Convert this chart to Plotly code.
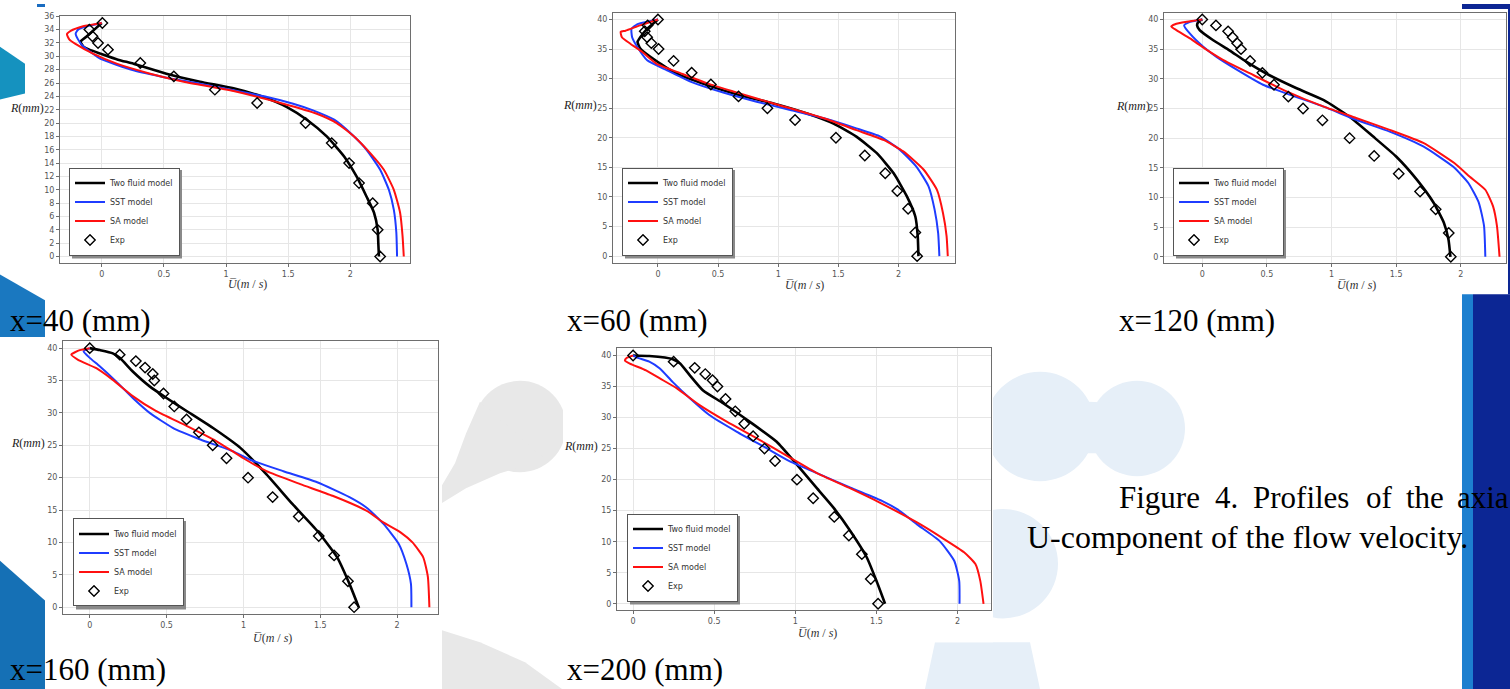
import plotly.graph_objects as go

W, H = 1510, 689

# ---------------- DATA ----------------
panels = ["x=40 (mm)", "x=60 (mm)", "x=120 (mm)", "x=160 (mm)", "x=200 (mm)"]

# x = 40 mm
r_tf_40 = [35, 34, 33, 32.2, 31.5, 31, 30.4, 29.5, 28.9, 27.4, 26.2, 25.2, 23.9, 22.4, 20.5, 18, 15, 12, 9, 6.6, 4, 2, 0]
u_tf_40 = [0.0, -0.06, -0.12, -0.17, -0.15, -0.1, -0.01, 0.13, 0.255, 0.52, 0.79, 1.06, 1.30, 1.49, 1.65, 1.81, 1.95, 2.05, 2.13, 2.19, 2.22, 2.225, 2.23]
r_sst_40 = [35, 34.5, 34, 33.4, 32.5, 31.5, 30.5, 29.6, 27.9, 26.8, 25.9, 24.9, 23.9, 22.9, 21.9, 20.5, 18.5, 16, 13, 10, 7, 3.6, 0]
u_sst_40 = [0.0, -0.12, -0.19, -0.21, -0.19, -0.15, -0.08, -0.01, 0.255, 0.52, 0.79, 1.06, 1.33, 1.54, 1.70, 1.87, 2.0, 2.13, 2.24, 2.31, 2.35, 2.37, 2.376]
r_sa_40 = [35, 34.5, 33.8, 33.3, 32.5, 31.9, 30.4, 28.9, 27.4, 26.2, 24.8, 22.9, 21.4, 20.0, 18.0, 15.5, 13.0, 10.0, 6.6, 3.1, 0]
u_sa_40 = [0.0, -0.15, -0.25, -0.28, -0.26, -0.215, -0.07, 0.12, 0.39, 0.66, 1.06, 1.46, 1.73, 1.89, 2.03, 2.16, 2.27, 2.35, 2.40, 2.42, 2.43]
r_exp_40 = [35, 34, 33, 32, 31, 29, 27, 25, 23, 20, 17, 14, 11, 8, 4, 0]
u_exp_40 = [0.005, -0.1, -0.075, -0.03, 0.05, 0.31, 0.58, 0.91, 1.25, 1.64, 1.85, 1.99, 2.07, 2.18, 2.22, 2.24]

# x = 60 mm
r_tf_60 = [40, 38.4, 37, 36.2, 35.1, 33.7, 31.1, 28.9, 27.2, 25.8, 24.1, 22.4, 20.2, 17.4, 14.0, 10.1, 6.7, 3.4, 0]
u_tf_60 = [0.0, -0.09, -0.147, -0.17, -0.147, -0.064, 0.13, 0.41, 0.68, 0.96, 1.24, 1.46, 1.65, 1.82, 1.96, 2.07, 2.14, 2.16, 2.166]
r_sst_60 = [40, 39.2, 38.4, 37, 35.3, 33.1, 31.4, 29.5, 27.6, 26.1, 24.7, 23.3, 21.6, 20.2, 18.0, 15.1, 11.8, 7.9, 3.9, 0]
u_sst_60 = [0.0, -0.17, -0.22, -0.215, -0.17, -0.09, 0.075, 0.27, 0.55, 0.82, 1.10, 1.38, 1.65, 1.85, 2.01, 2.15, 2.25, 2.30, 2.33, 2.34]
r_sa_60 = [40, 39, 38.1, 37.9, 37, 35.9, 34.5, 32.5, 30.9, 29.2, 27.5, 25.8, 23.3, 21.3, 19.6, 17.7, 14.6, 11.2, 7.3, 3.4, 0]
u_sa_60 = [0.0, -0.15, -0.27, -0.31, -0.30, -0.23, -0.13, -0.01, 0.19, 0.41, 0.68, 0.96, 1.38, 1.65, 1.88, 2.04, 2.21, 2.32, 2.37, 2.40, 2.41]
r_exp_60 = [40, 39, 38, 37, 36, 35, 33, 31, 29, 27, 25, 23, 20, 17, 14, 11, 8, 4, 0]
u_exp_60 = [0.0, -0.086, -0.11, -0.09, -0.055, 0.005, 0.13, 0.28, 0.44, 0.67, 0.91, 1.14, 1.48, 1.72, 1.89, 1.99, 2.08, 2.14, 2.155]

# x = 120 mm
r_tf_120 = [40, 39.6, 39, 38.2, 36.5, 34.8, 32.9, 30.6, 28.4, 26.4, 23.6, 20.3, 16.9, 13, 9.1, 5.7, 2.9, 0]
u_tf_120 = [0.0, -0.03, -0.04, -0.02, 0.085, 0.21, 0.34, 0.52, 0.73, 0.94, 1.14, 1.32, 1.50, 1.66, 1.79, 1.87, 1.905, 1.92]
r_sst_120 = [40, 39.6, 39, 37.6, 35.4, 33.7, 31.5, 29, 27.3, 25.3, 23.1, 21.1, 18.6, 15.2, 12.4, 9.1, 5.2, 0]
u_sst_120 = [0.0, -0.095, -0.14, -0.095, 0.008, 0.11, 0.27, 0.47, 0.68, 0.94, 1.19, 1.45, 1.71, 1.94, 2.06, 2.14, 2.18, 2.19]
r_sa_120 = [40, 39.6, 39.2, 38.8, 38.2, 36.8, 35.1, 33.2, 30.9, 28.1, 25.3, 23.4, 21.4, 19.2, 15.8, 13.5, 11.3, 8.5, 5.2, 0]
u_sa_120 = [0.0, -0.12, -0.21, -0.24, -0.20, -0.095, 0.02, 0.16, 0.37, 0.63, 0.94, 1.19, 1.45, 1.71, 1.95, 2.07, 2.19, 2.25, 2.28, 2.30]
r_exp_120 = [40, 39, 38, 37, 36, 35, 33, 31, 29, 27, 25, 23, 20, 17, 14, 11, 8, 4, 0]
u_exp_120 = [0.0, 0.106, 0.2, 0.235, 0.27, 0.30, 0.37, 0.465, 0.555, 0.666, 0.78, 0.93, 1.14, 1.33, 1.52, 1.685, 1.806, 1.907, 1.923]

# x = 160 mm
r_tf_160 = [40, 39.7, 39.2, 38.5, 36.4, 34.1, 32.3, 30.3, 27.7, 24.6, 20.5, 15.9, 11.8, 7.7, 3.6, 0]
u_tf_160 = [0.0, 0.065, 0.15, 0.195, 0.28, 0.39, 0.50, 0.63, 0.80, 0.98, 1.15, 1.32, 1.48, 1.61, 1.69, 1.75]
r_sst_160 = [40, 39.5, 38.5, 37.2, 34.9, 32.3, 30, 27.7, 25.9, 24.1, 22.8, 21, 19.3, 17, 15.4, 12.9, 9.8, 6.7, 3.6, 0]
u_sst_160 = [0.0, -0.04, 0.0, 0.065, 0.17, 0.28, 0.39, 0.54, 0.72, 0.93, 1.04, 1.26, 1.48, 1.69, 1.80, 1.91, 2.01, 2.06, 2.09, 2.093]
r_sa_160 = [40, 39.7, 39, 38.2, 36.9, 35.1, 32.6, 30.3, 28, 25.7, 23, 21, 19, 17.2, 14.9, 13.1, 11.6, 10, 7.7, 4.7, 0]
u_sa_160 = [0.0, -0.065, -0.12, -0.076, 0.043, 0.15, 0.28, 0.43, 0.63, 0.82, 1.0, 1.15, 1.37, 1.58, 1.80, 1.91, 2.02, 2.10, 2.17, 2.20, 2.21]
r_exp_160 = [40, 39, 38, 37, 36, 35, 33, 31, 29, 27, 25, 23, 20, 17, 14, 11, 8, 4, 0]
u_exp_160 = [0.0, 0.195, 0.30, 0.36, 0.41, 0.42, 0.48, 0.55, 0.63, 0.71, 0.80, 0.89, 1.03, 1.19, 1.36, 1.49, 1.59, 1.68, 1.72]

# x = 200 mm
r_tf_200 = [40, 39.9, 39.4, 38.7, 36.8, 34.4, 32.3, 29.3, 26.1, 22.4, 18.7, 15.5, 11.7, 7.5, 3.7, 0]
u_tf_200 = [0.0, 0.10, 0.245, 0.29, 0.35, 0.43, 0.555, 0.72, 0.885, 1.01, 1.13, 1.235, 1.34, 1.44, 1.50, 1.553]
r_sst_200 = [40, 39.7, 39, 37.9, 35.7, 33.1, 30.4, 27.7, 25.1, 22.9, 21.1, 18.7, 16.5, 15.2, 12.8, 10.1, 6.9, 3.7, 0]
u_sst_200 = [0.0, 0.02, 0.10, 0.165, 0.245, 0.35, 0.47, 0.64, 0.82, 0.97, 1.13, 1.34, 1.54, 1.63, 1.75, 1.89, 1.98, 2.01, 2.012]
r_sa_200 = [40, 39.6, 39.2, 38.7, 37.6, 36.3, 34.7, 32, 29.3, 26.7, 23.5, 21.1, 18.7, 16.3, 13.1, 10.7, 8.3, 6.4, 3.7, 0]
u_sa_200 = [0.0, -0.04, -0.05, -0.02, 0.08, 0.165, 0.27, 0.41, 0.58, 0.76, 0.97, 1.13, 1.33, 1.52, 1.75, 1.90, 2.04, 2.11, 2.14, 2.16]
r_exp_200 = [40, 39, 38, 37, 36, 35, 33, 31, 29, 27, 25, 23, 20, 17, 14, 11, 8, 4, 0]
u_exp_200 = [0.0, 0.25, 0.38, 0.445, 0.49, 0.52, 0.57, 0.63, 0.685, 0.74, 0.81, 0.875, 1.01, 1.11, 1.24, 1.33, 1.41, 1.465, 1.51]

series = [
    (r_tf_40, u_tf_40, r_sst_40, u_sst_40, r_sa_40, u_sa_40, r_exp_40, u_exp_40),
    (r_tf_60, u_tf_60, r_sst_60, u_sst_60, r_sa_60, u_sa_60, r_exp_60, u_exp_60),
    (r_tf_120, u_tf_120, r_sst_120, u_sst_120, r_sa_120, u_sa_120, r_exp_120, u_exp_120),
    (r_tf_160, u_tf_160, r_sst_160, u_sst_160, r_sa_160, u_sa_160, r_exp_160, u_exp_160),
    (r_tf_200, u_tf_200, r_sst_200, u_sst_200, r_sa_200, u_sa_200, r_exp_200, u_exp_200),
]
names = ["Two fluid model", "SST model", "SA model", "Exp"]
y_dticks = [2, 5, 5, 5, 5]

# ---------------- LAYOUT GEOMETRY (pixels) ----------------
def px(x):
    return x / W

def py(y):
    return 1 - y / H

# plot frame pixel boxes: left, right, top, bottom
frames = [(60, 410, 12, 261), (613, 955, 9, 261), (1164, 1506, 9, 261),
          (63, 438, 339, 614), (617, 991, 346, 610)]
xranges = [[-0.336, 2.48], [-0.374, 2.47], [-0.296, 2.35], [-0.174, 2.266], [-0.099, 2.206]]
yranges = [[-1.04, 36.05], [-1.24, 41.1], [-1.13, 41.1], [-1.12, 41.1], [-1.07, 41.2]]
# legend: left x, bottom y
legend_pos = [(69, 253), (622, 253), (1173, 253), (73, 606), (627, 601)]
LEG_W, LEG_H = 110, 89
rlabel_pos = [(27, 105), (580, 102), (1133, 103), (28, 442), (581, 445)]
ulabel_pos = [(247, 282), (804, 283), (1356, 283), (272, 638), (817, 633)]
caption_pos = [(8, 318), (565, 318), (1117, 318), (8, 669), (565, 669)]

colors = ["#000000", "#1f3cff", "#ff1010"]
widths = [2.6, 2.0, 2.0]

fig = go.Figure()
layout = dict(width=W, height=H, margin=dict(l=0, r=0, t=0, b=0),
              paper_bgcolor="white", plot_bgcolor="white", showlegend=True)

tickfont = dict(family="DejaVu Sans", size=8, color="#555555")

for i, s in enumerate(series):
    k = "" if i == 0 else str(i + 1)
    xa, ya = "x" + k, "y" + k
    lg = "legend" + k
    curves = [(s[0], s[1]), (s[2], s[3]), (s[4], s[5])]
    for j, (r, u) in enumerate(curves):
        fig.add_trace(go.Scatter(x=u, y=r, mode="lines", name=names[j],
                                 line=dict(color=colors[j], width=widths[j], shape="spline", smoothing=0.5),
                                 xaxis=xa, yaxis=ya, legend=lg))
    fig.add_trace(go.Scatter(x=s[7], y=s[6], mode="markers", name=names[3],
                             marker=dict(symbol="diamond-open", size=8, color="black",
                                         line=dict(width=1.4, color="black")),
                             xaxis=xa, yaxis=ya, legend=lg))
    l, rr, t, b = frames[i]
    axcommon = dict(showgrid=True, gridcolor="#e6e6e6", gridwidth=1, zeroline=False,
                    showline=True, linecolor="#6e6e6e", linewidth=1, mirror=True,
                    ticks="outside", ticklen=3, tickcolor="#6e6e6e", tickfont=tickfont)
    layout["xaxis" + k] = dict(domain=[px(l), px(rr)], range=xranges[i], dtick=0.5,
                               anchor=ya, **axcommon)
    layout["yaxis" + k] = dict(domain=[py(b), py(t)], range=yranges[i], dtick=y_dticks[i],
                               anchor=xa, **axcommon)
    lx, lb = legend_pos[i]
    layout[lg] = dict(x=px(lx), y=py(lb), xanchor="left", yanchor="bottom",
                      bgcolor="white", bordercolor="#555555", borderwidth=1,
                      font=dict(family="DejaVu Sans", size=8, color="#333333"),
                      itemwidth=30, tracegroupgap=0)

annotations = []
for i in range(5):
    x0, y0 = rlabel_pos[i]
    annotations.append(dict(x=px(x0), y=py(y0), xref="paper", yref="paper", showarrow=False,
                            text="<i>R</i>(<i>mm</i>)", xanchor="center", yanchor="middle",
                            font=dict(family="Liberation Serif", size=12, color="#222")))
    x0, y0 = ulabel_pos[i]
    annotations.append(dict(x=px(x0), y=py(y0), xref="paper", yref="paper", showarrow=False,
                            text="<i>U\u0305</i>(<i>m</i> / <i>s</i>)", xanchor="center", yanchor="middle",
                            font=dict(family="Liberation Serif", size=12, color="#333")))
    x0, y0 = caption_pos[i]
    annotations.append(dict(x=px(x0), y=py(y0), xref="paper", yref="paper", showarrow=False,
                            text=panels[i], xanchor="left", yanchor="middle",
                            font=dict(family="Liberation Serif", size=31, color="black")))

# figure caption (justified first line, last word cut by the page edge)
cap_words = [("Figure", 1117), ("4.", 1213), ("Profiles", 1251), ("of", 1364), ("the", 1404), ("axia", 1455)]
for wtxt, wx in cap_words:
    annotations.append(dict(x=px(wx), y=py(496), xref="paper", yref="paper", showarrow=False,
                            text=wtxt, xanchor="left", yanchor="middle",
                            font=dict(family="Liberation Serif", size=31, color="black")))
annotations.append(dict(x=px(1025), y=py(536), xref="paper", yref="paper", showarrow=False,
                        text="U-component of the flow velocity.", xanchor="left", yanchor="middle",
                        font=dict(family="Liberation Serif", size=32, color="black")))
layout["annotations"] = annotations

# ---------------- background decoration shapes ----------------
def poly(points, color, layer="below"):
    d = "M " + " L ".join(f"{px(x):.5f},{py(y):.5f}" for x, y in points) + " Z"
    return dict(type="path", path=d, xref="paper", yref="paper", fillcolor=color,
                line=dict(width=0), layer=layer)

def circ(cx, cy, r, color):
    return dict(type="circle", xref="paper", yref="paper", x0=px(cx - r), x1=px(cx + r),
                y0=py(cy + r), y1=py(cy - r), fillcolor=color, line=dict(width=0), layer="below")

shapes = []
gray = "#e8e8e8"
lblue = "#e6eff8"
# grey drop between lower panels
shapes.append(circ(520, 425, 46, gray))
shapes.append(poly([(480, 400), (466, 432), (455, 462), (442, 484), (442, 502), (466, 487),
                    (500, 472), (545, 458)], gray))
shapes.append(poly([(442, 630), (480, 642), (525, 662), (562, 689), (442, 689)], gray))
# light-blue molecule shapes
shapes.append(circ(1040, 425, 55, lblue))
shapes.append(circ(1137, 427, 48, lblue))
shapes.append(poly([(1040, 398), (1137, 402), (1137, 452), (1040, 452)], lblue))
shapes.append(circ(1003, 563, 55, lblue))
shapes.append(poly([(935, 642), (1030, 642), (1040, 689), (925, 689)], lblue))

# white figure images
for (x0, x1, y0, y1) in [(25, 418, 3, 292), (560, 962, 3, 292), (1105, 1508, 5, 292),
                         (9, 441, 335, 647), (563, 993, 338, 642)]:
    shapes.append(dict(type="rect", xref="paper", yref="paper", x0=px(x0), x1=px(x1),
                       y0=py(y1), y1=py(y0), fillcolor="white", line=dict(width=0), layer="below"))

# left edge blue elements
shapes.append(poly([(37, 0), (45, 0), (45, 3), (37, 3)], "#1a6cc0"))
shapes.append(poly([(0, 43), (25, 60), (25, 90), (0, 96)], "#1592bf"))
shapes.append(poly([(0, 272), (45, 298), (45, 335), (0, 335)], "#1a78c0"))
shapes.append(poly([(0, 560), (45, 600), (45, 689), (0, 689)], "#1570b5"))
# right edge bar
shapes.append(poly([(1462, 292), (1473, 292), (1473, 689), (1462, 689)], "#1d7fcf"))
shapes.append(poly([(1473, 292), (1510, 292), (1510, 689), (1473, 689)], "#0c2694"))
shapes.append(poly([(1462, 0), (1510, 0), (1510, 5), (1462, 5)], "#0c2694"))
shapes.append(poly([(1508, 0), (1510, 0), (1510, 292), (1508, 292)], "#0c2694"))

# legend drop shadows
for (lx, lb) in legend_pos:
    shapes.append(dict(type="rect", xref="paper", yref="paper",
                       x0=px(lx + 3), x1=px(lx + LEG_W + 3), y0=py(lb + 3), y1=py(lb - LEG_H + 3),
                       fillcolor="#8a8a8a", line=dict(width=0), layer="above"))
layout["shapes"] = shapes

fig.update_layout(**layout)
fig.write_html("out.html", config={"displayModeBar": False},
               post_script="document.body.style.margin='0';document.body.style.overflow='hidden';")
